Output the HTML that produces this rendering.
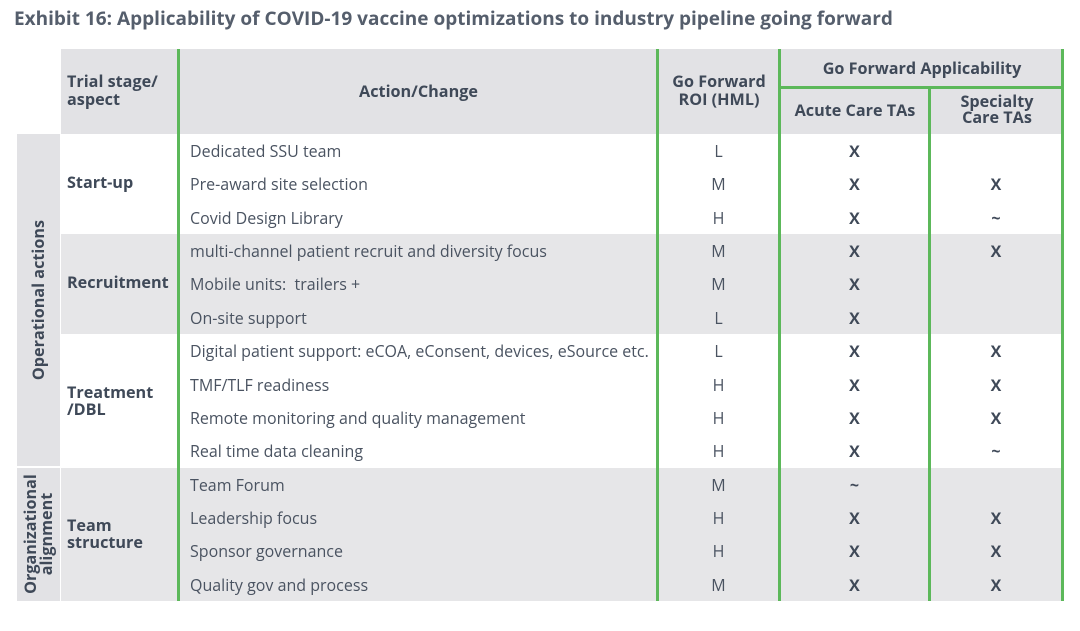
<!DOCTYPE html>
<html><head><meta charset="utf-8">
<style>
body{margin:0;width:1080px;height:631px;background:#fff;position:relative;overflow:hidden;font-family:"Open Sans","Liberation Sans","DejaVu Sans",sans-serif;color:#4a5361}
div{position:absolute;box-sizing:border-box}
.t{font-size:16px;white-space:pre}
.b{font-weight:bold;color:#3f4958}
.h{background:#e2e2e5}
.vl{background:#5cb85a;width:3px}
.c{text-align:center}
</style></head><body>
<div class="t b" style="left:14px;top:5px;font-size:19px;color:#555e6c">Exhibit 16: Applicability of COVID-19 vaccine optimizations to industry pipeline going forward</div>

<div class="h" style="left:61px;top:49px;width:1001px;height:85px"></div>
<div class="t b" style="left:67px;top:72px;line-height:18px;font-size:16.2px">Trial stage/<br>aspect</div>
<div class="t b c" style="left:180px;width:477px;top:80px;font-size:16.2px">Action/Change</div>
<div class="t b c" style="left:659px;width:120px;top:72px;line-height:18px;font-size:16.2px">Go Forward<br>ROI (HML)</div>
<div class="t b c" style="left:781px;width:282px;top:57px;font-size:16.2px">Go Forward Applicability</div>
<div style="left:779px;top:86px;width:285px;height:3px;background:#5cb85a"></div>
<div class="t b c" style="left:781px;width:148px;top:99px;font-size:16.2px">Acute Care TAs</div>
<div class="t b c" style="left:931px;width:132px;top:93px;line-height:16px;font-size:16.2px">Specialty<br>Care TAs</div>

<div class="h" style="left:17px;top:134px;width:43px;height:332px"></div>
<div class="h" style="left:17px;top:468px;width:43px;height:133px"></div>
<div class="t b" style="left:38px;top:300px;transform:translate(-50%,-50%) rotate(-90deg);font-size:16.2px">Operational actions</div>
<div class="t b c" style="left:38px;top:534px;transform:translate(-50%,-50%) rotate(-90deg);line-height:16px;font-size:16.2px">Organizational<br>alignment</div>

<div class="vl" style="left:177px;top:49px;height:552px;z-index:2"></div>
<div class="vl" style="left:656px;top:49px;height:552px;z-index:2"></div>
<div class="vl" style="left:778px;top:49px;height:552px;z-index:2"></div>
<div class="vl" style="left:928px;top:89px;height:512px;z-index:2"></div>
<div class="vl" style="left:1061px;top:49px;height:552px;z-index:2"></div>

<script>
const actions=["Dedicated SSU team","Pre-award site selection","Covid Design Library","multi-channel patient recruit and diversity focus","Mobile units:  trailers +","On-site support","Digital patient support: eCOA, eConsent, devices, eSource etc.","TMF/TLF readiness","Remote monitoring and quality management","Real time data cleaning","Team Forum","Leadership focus","Sponsor governance","Quality gov and process"];
const roi=["L","M","H","M","M","L","L","H","H","H","M","H","H","M"];
const acute=["X","X","X","X","X","X","X","X","X","X","~","X","X","X"];
const specialty=["","X","~","X","","","X","X","X","~","","X","X","X"];
const stages=["Start-up","Recruitment","Treatment<br>/DBL","Team<br>structure"];
const stageStart=[0,3,6,10];
const stageEnd=[3,6,10,14];
const top0=134,rh=33.36;
const root=document.body;
for(let s=0;s<stages.length;s++){
  const y0=top0+stageStart[s]*rh, y1=top0+stageEnd[s]*rh;
  const bg=document.createElement('div');
  
  
  bg.style.cssText=`left:61px;top:${y0}px;width:1001px;height:${y1-y0}px;background:${s%2?'#e6e6e8':'#fff'}`;
  root.appendChild(bg);
  const lb=document.createElement('div');
  
  
  lb.className='t b';
  const multi=stages[s].includes('<br>');
  lb.style.cssText=`left:67px;top:${(y0+y1)/2-(multi?17:10)}px;line-height:17px;font-size:16.2px`;
  lb.innerHTML=stages[s];
  root.appendChild(lb);
}
for(let i=0;i<actions.length;i++){
  const y=top0+i*rh+6;
  const a=document.createElement('div');
  
  
  a.className='t';a.style.cssText=`left:190px;top:${y}px`;a.textContent=actions[i];root.appendChild(a);
  const r=document.createElement('div');
  
  
  r.className='t c';r.style.cssText=`left:659px;width:119px;top:${y}px;font-size:16px`;r.textContent=roi[i];root.appendChild(r);
  const c=document.createElement('div');
  
  
  c.className='t b c';c.style.cssText=`left:781px;width:147px;top:${y}px`;c.textContent=acute[i];root.appendChild(c);
  const p=document.createElement('div');
  
  
  p.className='t b c';p.style.cssText=`left:931px;width:130px;top:${y}px`;p.textContent=specialty[i];root.appendChild(p);
}
</script>
</body></html>
